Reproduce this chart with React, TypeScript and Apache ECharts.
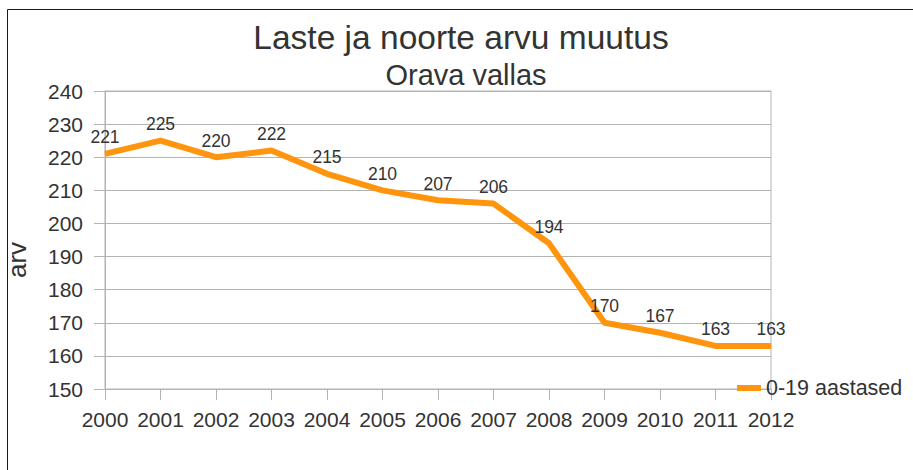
import React, { useEffect, useRef } from 'react';
import * as echarts from 'echarts';

const years = ['2000', '2001', '2002', '2003', '2004', '2005', '2006', '2007', '2008', '2009', '2010', '2011', '2012'];
const values = [221, 225, 220, 222, 215, 210, 207, 206, 194, 170, 167, 163, 163];
const seriesName = '0-19 aastased';
const titleText = 'Laste ja noorte arvu muutus';
const subtitleText = 'Orava vallas';
const yAxisName = 'arv';
const yMin = 150;
const yMax = 240;
const yStep = 10;

export default function App() {
  const ref = useRef<HTMLDivElement>(null);
  useEffect(() => {
    const chart = echarts.init(ref.current!, null, { renderer: 'svg' });
    const font = 'Liberation Sans';
    const textColor = '#333333';
    const gray = '#b3b3b3';
    const orange = '#ff950e';
    chart.setOption({
      animation: false,
      backgroundColor: '#ffffff',
      textStyle: { fontFamily: font },
      grid: {
        left: 105,
        top: 91,
        width: 666,
        height: 298,
        show: true,
        borderColor: gray,
        borderWidth: 1,
      },
      xAxis: {
        type: 'category',
        data: years,
        boundaryGap: false,
        axisLine: { lineStyle: { color: gray, width: 1 } },
        axisTick: { show: true, length: 11, interval: 0, lineStyle: { color: gray } },
        axisLabel: { color: textColor, fontSize: 21, margin: 20, interval: 0, fontFamily: font },
        splitLine: { show: false },
      },
      yAxis: {
        type: 'value',
        min: yMin,
        max: yMax,
        interval: yStep,
        axisLine: { show: true, lineStyle: { color: gray, width: 1 } },
        axisTick: { show: true, length: 11, lineStyle: { color: gray } },
        axisLabel: { color: textColor, fontSize: 21, margin: 22, fontFamily: font },
        splitLine: { show: true, lineStyle: { color: gray, width: 1 } },
      },
      legend: {
        left: 737,
        top: 377,
        icon: 'rect',
        itemWidth: 24,
        itemHeight: 6,
        itemGap: 0,
        padding: 0,
        textStyle: { color: textColor, fontSize: 21.5, fontFamily: font },
        data: [seriesName],
      },
      series: [
        {
          type: 'line',
          name: seriesName,
          data: values,
          color: orange,
          lineStyle: { width: 6, color: orange },
          symbol: 'circle',
          symbolSize: 1,
          itemStyle: { color: orange },
          label: {
            show: true,
            position: 'top',
            distance: 7,
            color: textColor,
            fontSize: 17.5,
            fontFamily: font,
          },
        },
      ],
      graphic: [
        {
          type: 'polyline',
          shape: { points: [[7.5, 470], [7.5, 9.5], [913, 9.5]] },
          style: { stroke: '#1a1a1a', lineWidth: 1, fill: 'none' },
          silent: true,
        },
        {
          type: 'text',
          x: 461,
          y: 37,
          style: {
            text: titleText,
            font: '33.5px "Liberation Sans"',
            fill: textColor,
            textAlign: 'center',
            textVerticalAlign: 'middle',
          },
        },
        {
          type: 'text',
          x: 466,
          y: 75,
          style: {
            text: subtitleText,
            font: '29px "Liberation Sans"',
            fill: textColor,
            textAlign: 'center',
            textVerticalAlign: 'middle',
          },
        },
        {
          type: 'text',
          x: 17,
          y: 260,
          rotation: Math.PI / 2,
          style: {
            text: yAxisName,
            font: '26px "Liberation Sans"',
            fill: textColor,
            textAlign: 'center',
            textVerticalAlign: 'middle',
          },
        },
      ],
    });
    return () => chart.dispose();
  }, []);
  return <div ref={ref} style={{ position: 'absolute', left: 0, top: 0, width: 913, height: 470 }} />;
}
